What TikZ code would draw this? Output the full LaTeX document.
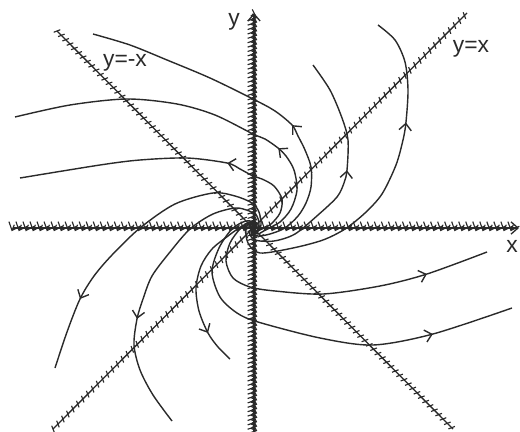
\documentclass[tikz,border=0pt]{standalone}
\usepackage{fontspec}
\setmainfont{Liberation Sans}
\usepackage{xcolor}
\usetikzlibrary{arrows.meta,decorations.markings}
\definecolor{inkgray}{HTML}{2A2A2A}

\begin{document}
\begin{tikzpicture}[
      x=0.02cm,y=0.02cm,
      axisline/.style={line width=0.75pt,inkgray},
      tickline/.style={line width=0.65pt,inkgray},
      isocline/.style 2 args={postaction={decorate},
        decoration={markings,mark=between positions 0 and 1 step #1
          with {\draw[tickline] (#2:2pt) -- (#2+180:2pt);}}},
      traj/.style={line width=0.8pt,inkgray},
      flowtip/.style={postaction={decorate},
        decoration={markings,mark=at position #1
          with {\arrow{Straight Barb[length=3.8pt,width=7pt]}}}},
      lbl/.style={font=\fontsize{13}{15}\selectfont,inner sep=0pt,text=inkgray}
    ]
    \useasboundingbox (0,0) rectangle (520,-432);
    \coordinate (O) at (254,-228);
    \coordinate (xw) at (13,-228);
    \coordinate (xe) at (519,-228);
    \coordinate (ys) at (254,-434);
    \coordinate (yn) at (254,-13);
    \coordinate (dsw) at (53,-429);
    \coordinate (dne) at (467,-13);
    \coordinate (dnw) at (57,-31);
    \coordinate (dse) at (453,-429);

    % axes and isoclines
    \draw[axisline,isocline={4pt}{68},-{Straight Barb[length=4pt,width=7pt]}] (xw) -- (xe);
    \draw[axisline,isocline={2.5pt}{68},-{Straight Barb[length=4pt,width=7pt]}] (ys) -- (yn);
    \draw[axisline,isocline={4pt}{66}] (dsw) -- (dne);
    \draw[axisline,isocline={3.5pt}{66}] (dnw) -- (dse);

    % trajectories, from the origin outwards
    \draw[traj,flowtip=0.418] plot[smooth] coordinates {(254,-228) (251,-233) (258,-236) (270,-234) (285,-228) (298,-216) (306,-203) (311,-187) (311,-167) (305,-150) (298,-136) (292,-125) (275,-111) (253,-99) (210,-78) (167,-60) (130,-45) (93,-34)};
    \draw[traj,flowtip=0.305] plot[smooth] coordinates {(254,-228) (252,-232) (258,-234) (267,-229) (280,-222) (291,-209) (297,-190) (294,-170) (286,-156) (278,-148) (265,-139) (253,-134) (215,-115) (177,-104) (127,-99) (70,-105) (15,-117)};
    \draw[traj,flowtip=0.358] plot[smooth] coordinates {(254,-228) (256,-231) (262,-229) (271,-224) (280,-213) (282,-199) (274,-186) (262,-179) (253,-176) (240,-169) (227,-163) (187,-158) (140,-160) (100,-165) (20,-178)};
    \draw[traj,flowtip=0.557] plot[smooth] coordinates {(254,-228) (249,-232) (255,-240) (274,-241) (295,-234) (318,-215) (337,-197) (344,-183) (347,-170) (348,-140) (342,-118) (330,-90) (313,-65)};
    \draw[traj,flowtip=0.708] plot[smooth] coordinates {(254,-228) (252,-223) (246,-228) (248,-243) (260,-253) (293,-248) (323,-240) (345,-229) (365,-213) (382,-194) (396,-165) (403,-140) (406,-122) (408,-90) (405,-62) (395,-40) (378,-25)};
    \draw[traj,flowtip=0.809] plot[smooth] coordinates {(254,-228) (251,-224) (241,-228) (230,-243) (226,-261) (233,-278) (250,-287) (275,-291) (323,-294) (380,-286) (427,-274) (487,-252)};
    \draw[traj,flowtip=0.80] plot[smooth] coordinates {(254,-228) (257,-223) (246,-221) (232,-229) (219,-248) (212,-272) (220,-297) (237,-313) (258,-322) (320,-338) (373,-345) (433,-334) (512,-308)};
    \draw[traj,flowtip=0.776] plot[smooth] coordinates {(254,-228) (257,-232) (261,-225) (259,-212) (252,-203) (235,-196) (213,-193) (175,-204) (140,-228) (112,-255) (94,-276) (80,-299) (67,-332) (55,-368)};
    \draw[traj,flowtip=0.642] plot[smooth] coordinates {(254,-228) (256,-232) (259,-224) (255,-214) (237,-208) (213,-214) (190,-229) (170,-252) (152,-276) (143,-299) (137,-319) (134,-345) (140,-370) (153,-395) (172,-421)};
    \draw[traj,flowtip=0.813] plot[smooth] coordinates {(254,-228) (257,-225) (252,-222) (242,-226) (228,-236) (212,-249) (201,-266) (196,-288) (199,-311) (208,-333) (218,-347) (230,-359)};

    \node[lbl] (ylab) at (234,-22) {y};
    \node[lbl] (xlab) at (512,-246) {x};
    \node[lbl] (diagne) at (471,-49) {y=x};
    \node[lbl] (diagnw) at (125,-63) {y=-x};
  \end{tikzpicture}
\end{document}
